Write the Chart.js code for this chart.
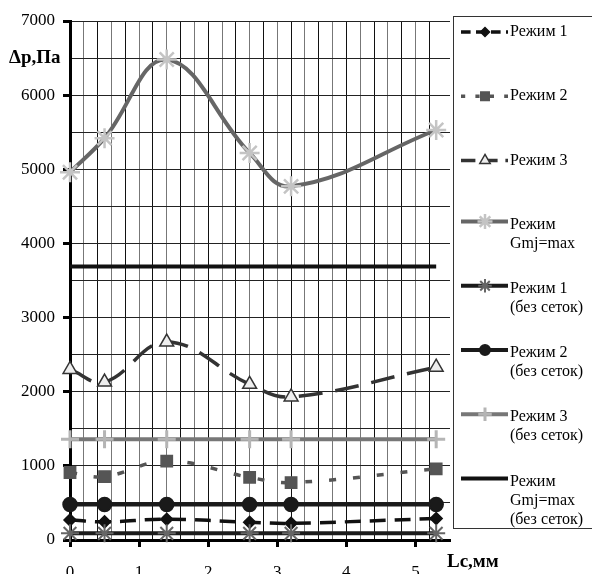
<!DOCTYPE html>
<html>
<head>
<meta charset="utf-8">
<script src="https://cdn.jsdelivr.net/npm/chart.js@4/dist/chart.umd.min.js"></script>
<style>
  html, body { margin: 0; padding: 0; background: #fff; }
  #wrap { width: 592px; height: 574px; position: relative; }
</style>
</head>
<body>
<div id="wrap"><canvas id="pressureChart"></canvas></div>
<script>
// Data
const lcValues = [0, 0.5, 1.4, 2.6, 3.2, 5.3];

const mode1 = [270, 245, 280, 240, 225, 290];
const mode2 = [910, 855, 1065, 845, 775, 960];
const mode3 = [2300, 2130, 2670, 2100, 1930, 2330];
const modeMax = [4960, 5420, 6480, 5220, 4770, 5530];
const mode1NoGrid = [90, 90, 90, 90, 90, 90];
const mode2NoGrid = [480, 480, 480, 480, 480, 480];
const mode3NoGrid = [1360, 1360, 1360, 1360, 1360, 1360];
const modeMaxNoGrid = [3690, 3690, 3690, 3690, 3690, 3690];

const seriesLabels = [
    ['Режим 1'],
    ['Режим 2'],
    ['Режим 3'],
    ['Режим', 'Gmj=max'],
    ['Режим 1', '(без сеток)'],
    ['Режим 2', '(без сеток)'],
    ['Режим 3', '(без сеток)'],
    ['Режим', 'Gmj=max', '(без сеток)']
];

const yTicks = [0, 1000, 2000, 3000, 4000, 5000, 6000, 7000];
const xTicks = [0, 1, 2, 3, 4, 5];
const yTitle = 'Δр,Па';
const xTitle = 'Lc,мм';

function pts(values) {
    return values.map((v, i) => ({ x: lcValues[i], y: v }));
}

function series(label, values, style) {
    return Object.assign({
        label: label,
        data: pts(values),
        fill: false,
        tension: 0.4,
        clip: false,
        borderWidth: 3,
        pointBorderWidth: 1.5
    }, style);
}

const datasets = [
    series(seriesLabels[7], modeMaxNoGrid, {
        borderColor: '#111', borderWidth: 4, pointRadius: 0
    }),
    series(seriesLabels[6], mode3NoGrid, {
        borderColor: '#777', borderWidth: 4,
        pointStyle: 'cross', pointRadius: 9, pointBorderWidth: 3,
        pointBorderColor: '#b5b5b5', pointBackgroundColor: '#b5b5b5'
    }),
    series(seriesLabels[5], mode2NoGrid, {
        borderColor: '#1a1a1a', borderWidth: 4,
        pointStyle: 'circle', pointRadius: 7,
        pointBorderColor: '#1a1a1a', pointBackgroundColor: '#1a1a1a'
    }),
    series(seriesLabels[4], mode1NoGrid, {
        borderColor: '#1a1a1a', borderWidth: 4,
        pointStyle: 'star', pointRadius: 9, pointBorderWidth: 2,
        pointBorderColor: '#666', pointBackgroundColor: '#666'
    }),
    series(seriesLabels[3], modeMax, {
        borderColor: '#666', borderWidth: 4,
        pointStyle: 'star', pointRadius: 10, pointBorderWidth: 2.5,
        pointBorderColor: '#c4c4c4', pointBackgroundColor: '#c4c4c4'
    }),
    series(seriesLabels[2], mode3, {
        borderColor: '#333', borderWidth: 3.5, borderDash: [24, 13],
        pointStyle: 'triangle', pointRadius: 8, pointBorderWidth: 1.5,
        pointBorderColor: '#333', pointBackgroundColor: '#eee'
    }),
    series(seriesLabels[1], mode2, {
        borderColor: '#555', borderWidth: 3.5, borderDash: [7, 17],
        pointStyle: 'rect', pointRadius: 8,
        pointBorderColor: '#555', pointBackgroundColor: '#555'
    }),
    series(seriesLabels[0], mode1, {
        borderColor: '#111', borderWidth: 3.5, borderDash: [16, 9],
        pointStyle: 'rectRot', pointRadius: 6,
        pointBorderColor: '#111', pointBackgroundColor: '#111'
    })
];

// legend box + axis titles drawn by hand
const sideLegend = {
    id: 'sideLegend',
    afterDraw(chart) {
        const ctx = chart.ctx;
        ctx.save();
        ctx.strokeStyle = '#333';
        ctx.lineWidth = 1;
        ctx.strokeRect(453.5, 16.5, 150, 512);

        ctx.font = '16px "Liberation Serif"';
        ctx.fillStyle = '#000';
        ctx.textBaseline = 'middle';
        ctx.textAlign = 'left';

        const order = chart.data.datasets.slice().reverse();
        order.forEach((ds, i) => {
            const y = 32 + i * 64.2;
            const lineY = ds.label.length > 1 ? y - 3 : y;
            ctx.save();
            ctx.strokeStyle = ds.borderColor;
            ctx.lineWidth = ds.borderWidth;
            ctx.setLineDash(ds.borderDash ? ds.borderDash.map(d => d * 0.6) : []);
            ctx.beginPath();
            ctx.moveTo(461, lineY);
            ctx.lineTo(508, lineY);
            ctx.stroke();
            ctx.setLineDash([]);
            if (ds.pointRadius > 0) {
                ctx.strokeStyle = ds.pointBorderColor;
                ctx.fillStyle = ds.pointBackgroundColor;
                ctx.lineWidth = ds.pointBorderWidth;
                Chart.helpers.drawPoint(ctx, {
                    pointStyle: ds.pointStyle,
                    radius: ds.pointRadius * 0.75,
                    rotation: 0,
                    borderWidth: ds.pointBorderWidth
                }, 485, lineY);
            }
            ctx.restore();
            ds.label.forEach((line, k) => {
                ctx.fillText(line, 510, y + k * 19);
            });
        });

        ctx.font = 'bold 19px "Liberation Serif"';
        ctx.fillText(yTitle, 9, 58);
        ctx.fillText(xTitle, 447, 562);
        ctx.restore();
    }
};

const isInt = v => Math.abs(v - Math.round(v)) < 1e-6;

new Chart(document.getElementById('pressureChart'), {
    type: 'line',
    data: { datasets: datasets },
    plugins: [sideLegend],
    options: {
        responsive: true,
        maintainAspectRatio: false,
        animation: false,
        layout: { padding: { top: 21, right: 142, left: 0, bottom: 0 } },
        font: { family: '"Liberation Serif"', size: 17 },
        plugins: {
            legend: { display: false },
            tooltip: { enabled: false }
        },
        scales: {
            x: {
                type: 'linear',
                min: 0,
                max: 5.5,
                afterFit: s => { s.height = 34; },
                border: { display: true, color: '#000', width: 3 },
                grid: {
                    color: c => {
                        const v = c.tick.value;
                        if (v > 5.45) return 'rgba(0,0,0,0)';
                        return Math.round(v / 0.2) % 2 === 0 ? '#111' : '#777';
                    },
                    lineWidth: 1,
                    tickLength: 7,
                    tickWidth: 3,
                    tickColor: c => isInt(c.tick.value) ? '#000' : 'rgba(0,0,0,0)'
                },
                ticks: {
                    stepSize: 0.2,
                    autoSkip: false,
                    maxRotation: 0,
                    padding: 15,
                    color: '#000',
                    font: { family: '"Liberation Serif"', size: 17 },
                    callback: v => (isInt(v) && xTicks.includes(Math.round(v))) ? String(Math.round(v)) : ''
                }
            },
            y: {
                min: 0,
                max: 7000,
                afterFit: s => { s.width = 70; },
                border: { display: true, color: '#000', width: 3 },
                grid: {
                    color: '#222',
                    lineWidth: 1,
                    tickLength: 7,
                    tickWidth: 3,
                    tickColor: c => c.tick.value % 1000 === 0 ? '#000' : 'rgba(0,0,0,0)'
                },
                ticks: {
                    stepSize: 500,
                    autoSkip: false,
                    padding: 8,
                    color: '#000',
                    font: { family: '"Liberation Serif"', size: 17 },
                    callback: v => yTicks.includes(v) ? String(v) : ''
                }
            }
        }
    }
});
</script>
</body>
</html>
